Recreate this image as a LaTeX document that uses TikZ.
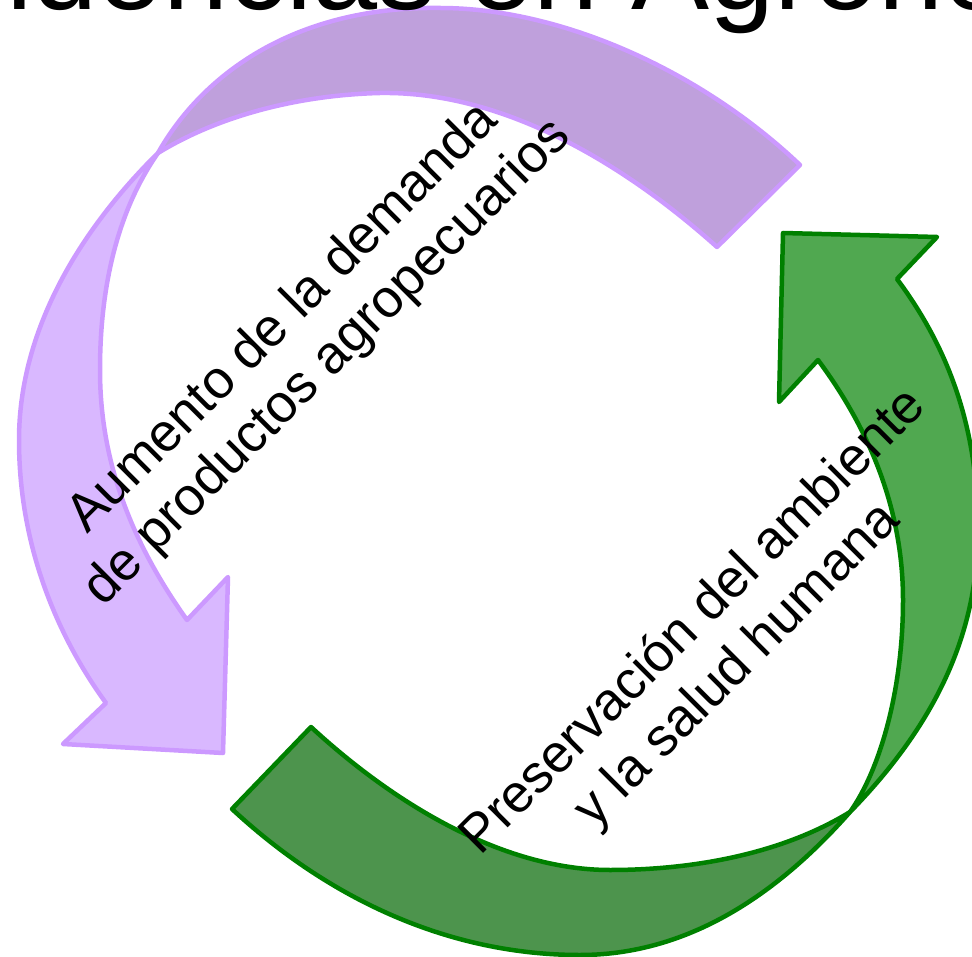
\documentclass[tikz,border=0pt]{standalone}
\usepackage{fontspec}
\setmainfont{Liberation Sans}
\definecolor{lilaEdge}{HTML}{CC99FF}
\definecolor{lilaBack}{HTML}{BFA0DC}
\definecolor{lilaFront}{HTML}{D9B8FF}
\definecolor{verdeEdge}{HTML}{008000}
\definecolor{verdeBack}{HTML}{4D944D}
\definecolor{verdeFront}{HTML}{50A850}
\begin{document}
\begin{tikzpicture}[x=1pt,y=-1pt,
  band/.style={line width=4.5pt,line join=round},
  lbl/.style={font=\fontsize{53.5}{62}\selectfont,align=center,rotate=45,inner sep=0pt}]
\useasboundingbox (0,0) rectangle (972,957);
\clip (0,0) rectangle (972,957);

% twist points of the two swooshes
\coordinate (lx) at (158,153);
\coordinate (gx) at (850,812);

% lilac swoosh: rear part (tail, upper band)
\filldraw[band,draw=lilaEdge,fill=lilaBack]
  (717,247) -- (800,165)
  .. controls (700,70) and (560,8) .. (440,8)
  .. controls (300,6) and (205,70) .. (lx)
  .. controls (220,115) and (300,95) .. (380,93)
  .. controls (500,91) and (620,160) .. (717,247) -- cycle;
% lilac swoosh: front part with the arrow head
\filldraw[band,draw=lilaEdge,fill=lilaFront]
  (lx) .. controls (80,230) and (19,330) .. (19,440)
  .. controls (19,550) and (60,640) .. (106,703)
  -- (63,744) -- (223,753) -- (228,577) -- (187,620)
  .. controls (130,540) and (100,460) .. (100,370)
  .. controls (100,270) and (125,200) .. (lx) -- cycle;

% green swoosh: rear part (tail, lower band)
\filldraw[band,draw=verdeEdge,fill=verdeBack]
  (311,727) -- (232,809)
  .. controls (330,900) and (450,955) .. (580,955)
  .. controls (700,955) and (790,880) .. (gx)
  .. controls (780,855) and (690,870) .. (610,870)
  .. controls (500,870) and (390,800) .. (311,727) -- cycle;
% green swoosh: front part with the arrow head
\filldraw[band,draw=verdeEdge,fill=verdeFront]
  (gx) .. controls (930,730) and (978,640) .. (978,530)
  .. controls (978,430) and (950,350) .. (897,279)
  -- (937,237) -- (783,233) -- (779,402) -- (818,360)
  .. controls (870,430) and (903,510) .. (903,600)
  .. controls (903,690) and (880,770) .. (gx) -- cycle;

% labels along the swooshes
\node[lbl] (demanda) at (306,341) {Aumento de la demanda\\de productos agropecuarios};
\node[lbl] (ambiente) at (716,644) {Preservación del ambiente\\y la salud humana};

% heading, mostly above the visible area
\node[anchor=base west,font=\fontsize{117}{140}\selectfont,inner sep=0pt] (titulo) at (-156,10) {Tendencias en Agronomía};
\end{tikzpicture}
\end{document}
